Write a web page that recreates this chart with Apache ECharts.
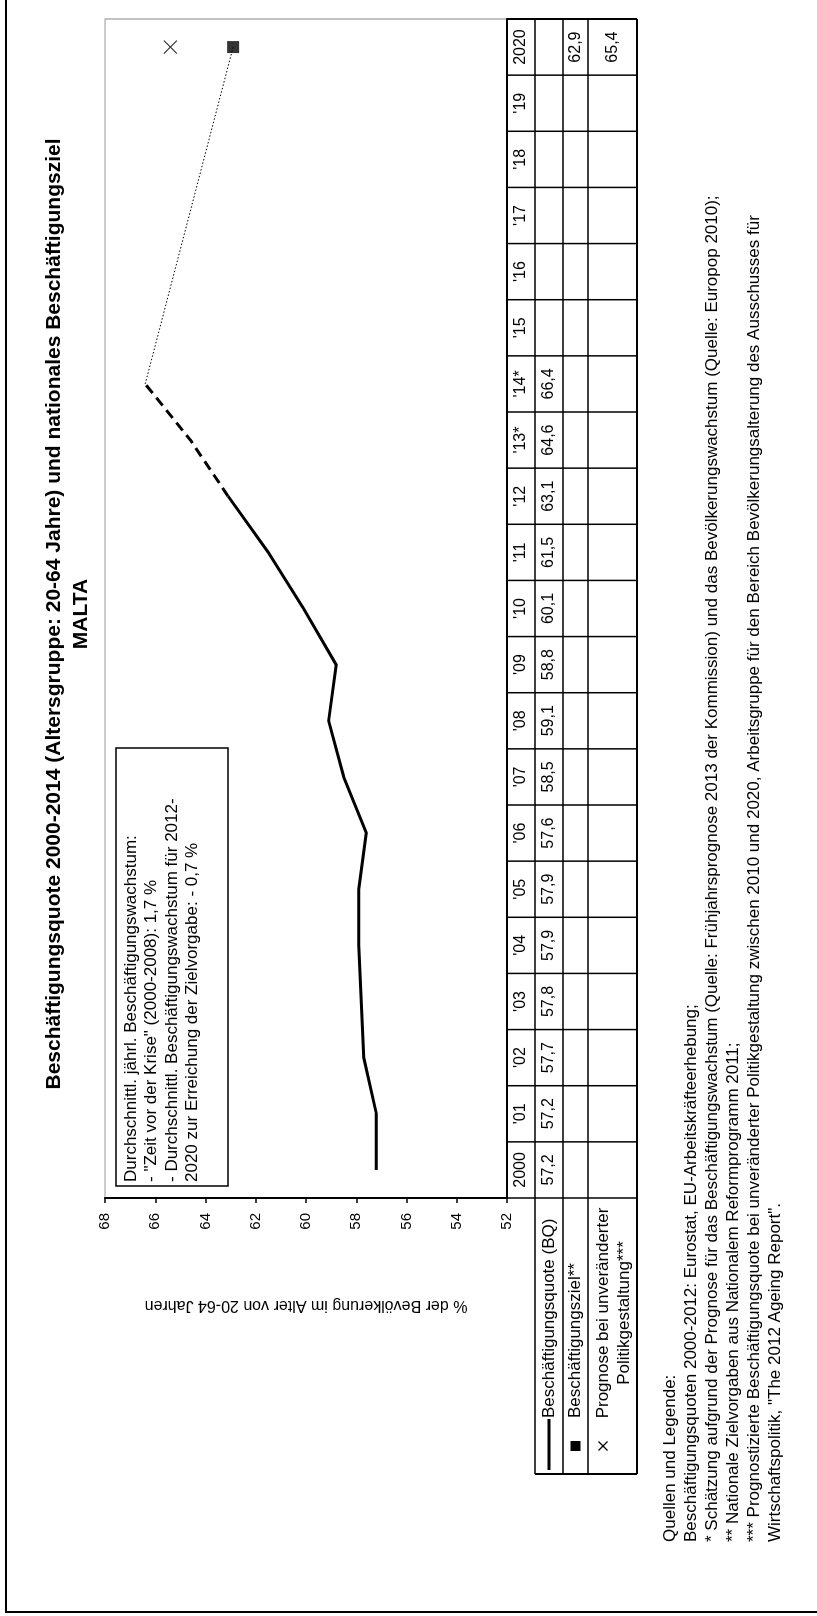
<!DOCTYPE html>
<html>
<head>
<meta charset="utf-8">
<script src="https://cdn.jsdelivr.net/npm/echarts@6/dist/echarts.min.js"></script>
<style>
  html, body { margin: 0; padding: 0; width: 817px; height: 1616px; overflow: hidden; background: #fff; }
  /* the sheet is laid out in landscape and turned a quarter turn to portrait */
  #sheet { position: absolute; left: 0; top: 0; width: 1616px; height: 817px;
           transform-origin: 0 0; transform: translate(0, 1616px) rotate(-90deg); }
</style>
</head>
<body>
<div id="sheet"></div>
<script>
// ---- data -------------------------------------------------------------
const years = ['2000', "'01", "'02", "'03", "'04", "'05", "'06", "'07", "'08", "'09",
               "'10", "'11", "'12", "'13*", "'14*", "'15", "'16", "'17", "'18", "'19", '2020'];
// Beschäftigungsquote (BQ) 2000 … 2014 (2013/14 geschätzt)
const employmentRate = [57.2, 57.2, 57.7, 57.8, 57.9, 57.9, 57.6, 58.5, 59.1, 58.8, 60.1, 61.5, 63.1, 64.6, 66.4];
const lastObservedIndex = 12;          // 2012: last Eurostat value
const targetYearIndex = 20;            // 2020
const nationalTarget = 62.9;           // Beschäftigungsziel**
const unchangedPolicyForecast = 65.4;  // Prognose bei unveränderter Politikgestaltung***
const valueTicks = { min: 52, max: 68, step: 2 };
const growthPreCrisis = '1,7';
const growthRequired = '0,7';

const FONT = '"Liberation Sans", Arial, Helvetica, sans-serif';
const fmt = v => v.toFixed(1).replace('.', ',');

// ---- series arrays built from the data ---------------------------------
const solidPart = years.map((_, i) => (i <= lastObservedIndex ? employmentRate[i] : null));
const dashedPart = years.map((_, i) => (i >= lastObservedIndex && i < employmentRate.length ? employmentRate[i] : null));
const lastEstimate = employmentRate.length - 1;
const dottedPart = years.map((_, i) => i === lastEstimate ? employmentRate[i] : (i === targetYearIndex ? nationalTarget : null));
const targetPoint = years.map((_, i) => (i === targetYearIndex ? nationalTarget : null));
const forecastPoint = years.map((_, i) => (i === targetYearIndex ? unchangedPolicyForecast : null));

const chart = echarts.init(document.getElementById('sheet'), null, { width: 1616, height: 817, renderer: 'canvas' });

const option = {
  animation: false,
  backgroundColor: '#fff',
  textStyle: { fontFamily: FONT, color: '#000' },
  title: {
    text: 'Beschäftigungsquote 2000-2014 (Altersgruppe: 20-64 Jahre) und nationales Beschäftigungsziel\nMALTA',
    left: 997, top: 36, textAlign: 'center',
    textStyle: { fontFamily: FONT, fontSize: 21, fontWeight: 'bold', color: '#000', lineHeight: 27 }
  },
  grid: { left: 418, right: 19, top: 105, bottom: 310, show: true, borderColor: '#9a9a9a', borderWidth: 1.2, backgroundColor: 'transparent' },
  xAxis: {
    type: 'category', data: years, boundaryGap: true,
    axisLine: { show: true, lineStyle: { color: '#000', width: 2 } },
    axisTick: { show: false },
    axisLabel: { interval: 0, fontSize: 16, color: '#000', margin: 14, verticalAlign: 'middle', fontFamily: FONT },
    splitLine: { show: false }
  },
  yAxis: {
    type: 'value', min: valueTicks.min, max: valueTicks.max, interval: valueTicks.step,
    name: '% der Bevölkerung im Alter von 20-64 Jahren',
    nameLocation: 'middle', nameRotate: 90, nameGap: 99,
    nameTextStyle: { fontSize: 16, color: '#000', fontFamily: FONT },
    axisLine: { show: true, lineStyle: { color: '#000', width: 2 } },
    axisTick: { show: true, inside: false, length: 5, lineStyle: { color: '#000', width: 1.5 } },
    axisLabel: { fontSize: 15, color: '#000', margin: 15, fontFamily: FONT },
    splitLine: { show: false }
  },
  series: [
    { name: 'BQ', type: 'line', data: solidPart, symbol: 'none', lineStyle: { color: '#000', width: 3 }, z: 3 },
    { name: 'BQ Schätzung', type: 'line', data: dashedPart, symbol: 'none', lineStyle: { color: '#000', width: 3, type: [10, 6] }, z: 3 },
    { name: 'Verlauf bis Ziel', type: 'line', data: dottedPart, connectNulls: true, symbol: 'none', lineStyle: { color: '#000', width: 1, type: [1.5, 2] }, z: 2 },
    { name: 'Beschäftigungsziel', type: 'scatter', data: targetPoint, symbol: 'rect', symbolSize: 12, itemStyle: { color: '#000' }, z: 4 },
    { name: 'Prognose', type: 'scatter', data: forecastPoint, symbol: 'path://M0,0L10,10M10,0L0,10', symbolSize: 13,
      itemStyle: { color: '#000', borderColor: '#000', borderWidth: 1.2 }, z: 4 }
  ]
};
chart.setOption(option);

// ---- data table, row headers, notes ------------------------------------
function txt(x, y, text, size, opts) {
  return {
    type: 'text', x: x, y: y, silent: true,
    style: Object.assign({ text: text, fill: '#000', fontSize: size, fontFamily: FONT, align: 'center', verticalAlign: 'middle' }, opts || {})
  };
}
function seg(x1, y1, x2, y2, w) {
  return { type: 'line', silent: true, shape: { x1: x1, y1: y1, x2: x2, y2: y2 }, style: { stroke: '#000', lineWidth: w || 1.5 } };
}

function buildGraphics() {
  const c0 = chart.convertToPixel({ xAxisIndex: 0 }, 0);
  const c1 = chart.convertToPixel({ xAxisIndex: 0 }, 1);
  const w = c1 - c0;
  const x0 = c0 - w / 2;
  const x1 = x0 + w * years.length;
  const yTop = chart.convertToPixel({ yAxisIndex: 0 }, valueTicks.min);
  const yYear = yTop + 28, yBQ = yTop + 56, yZiel = yTop + 81, yEnd = yTop + 130;
  const headLeft = 142;
  const els = [];

  // outer frame
  els.push({ type: 'rect', silent: true, shape: { x: 4, y: 6, width: 1700, height: 900 }, style: { fill: 'none', stroke: '#000', lineWidth: 2 } });

  // table grid
  [yYear, yBQ, yZiel].forEach(y => els.push(seg(headLeft, y, x1, y, 1.5)));
  els.push(seg(headLeft, yEnd, x1, yEnd, 2));
  els.push(seg(headLeft, yYear, headLeft, yEnd, 2));
  for (let k = 0; k <= years.length; k++) {
    const x = x0 + k * w;
    els.push(seg(x, yTop, x, yEnd, k === years.length ? 2 : 1.5));
  }

  // BQ row values
  employmentRate.forEach((v, i) => {
    els.push(txt(chart.convertToPixel({ xAxisIndex: 0 }, i), (yYear + yBQ) / 2, fmt(v), 16));
  });
  const cT = chart.convertToPixel({ xAxisIndex: 0 }, targetYearIndex);
  els.push(txt(cT, (yBQ + yZiel) / 2, fmt(nationalTarget), 16));
  els.push(txt(cT, (yZiel + yEnd) / 2, fmt(unchangedPolicyForecast), 16));

  // row headers with their key symbols
  const rBQ = (yYear + yBQ) / 2, rZ = (yBQ + yZiel) / 2, rP = yZiel + 15;
  els.push(seg(146, rBQ, 197, rBQ, 3));
  els.push(txt(198, rBQ, 'Beschäftigungsquote (BQ)', 17, { align: 'left' }));
  els.push({ type: 'rect', silent: true, shape: { x: 165, y: rZ - 5, width: 10, height: 10 }, style: { fill: '#000' } });
  els.push(txt(198, rZ, 'Beschäftigungsziel**', 17, { align: 'left' }));
  els.push(seg(165.5, rP - 4.5, 174.5, rP + 4.5, 1.3));
  els.push(seg(174.5, rP - 4.5, 165.5, rP + 4.5, 1.3));
  els.push(txt(303, rP - 10.5, 'Prognose bei unveränderter\nPolitikgestaltung***', 17, { verticalAlign: 'top', lineHeight: 21 }));

  // note box inside the plot
  els.push({ type: 'rect', silent: true, shape: { x: 430, y: 116, width: 438, height: 112 }, style: { fill: '#fff', stroke: '#000', lineWidth: 1.5 }, z: 10 });
  const note = txt(434, 121, 'Durchschnittl. jährl. Beschäftigungswachstum:\n- "Zeit vor der Krise" (2000-2008): ' + growthPreCrisis +
    ' %\n- Durchschnittl. Beschäftigungswachstum für 2012-\n2020 zur Erreichung der Zielvorgabe: - ' + growthRequired + ' %', 17,
    { align: 'left', verticalAlign: 'top', lineHeight: 20.5 });
  note.z = 11;
  els.push(note);

  // sources and key
  els.push(txt(74, 659.5, 'Quellen und Legende:\n' +
    'Beschäftigungsquoten 2000-2012: Eurostat, EU-Arbeitskräfteerhebung;\n' +
    '* Schätzung aufgrund der Prognose für das Beschäftigungswachstum (Quelle: Frühjahrsprognose 2013 der Kommission) und das Bevölkerungswachstum (Quelle: Europop 2010);\n' +
    '** Nationale Zielvorgaben aus Nationalem Reformprogramm 2011;\n' +
    '*** Prognostizierte Beschäftigungsquote bei unveränderter Politikgestaltung zwischen 2010 und 2020, Arbeitsgruppe für den Bereich Bevölkerungsalterung des Ausschusses für\n' +
    'Wirtschaftspolitik, "The 2012 Ageing Report".', 17, { align: 'left', verticalAlign: 'top', lineHeight: 21 }));

  chart.setOption({ graphic: { elements: els } });
}
buildGraphics();
</script>
</body>
</html>
